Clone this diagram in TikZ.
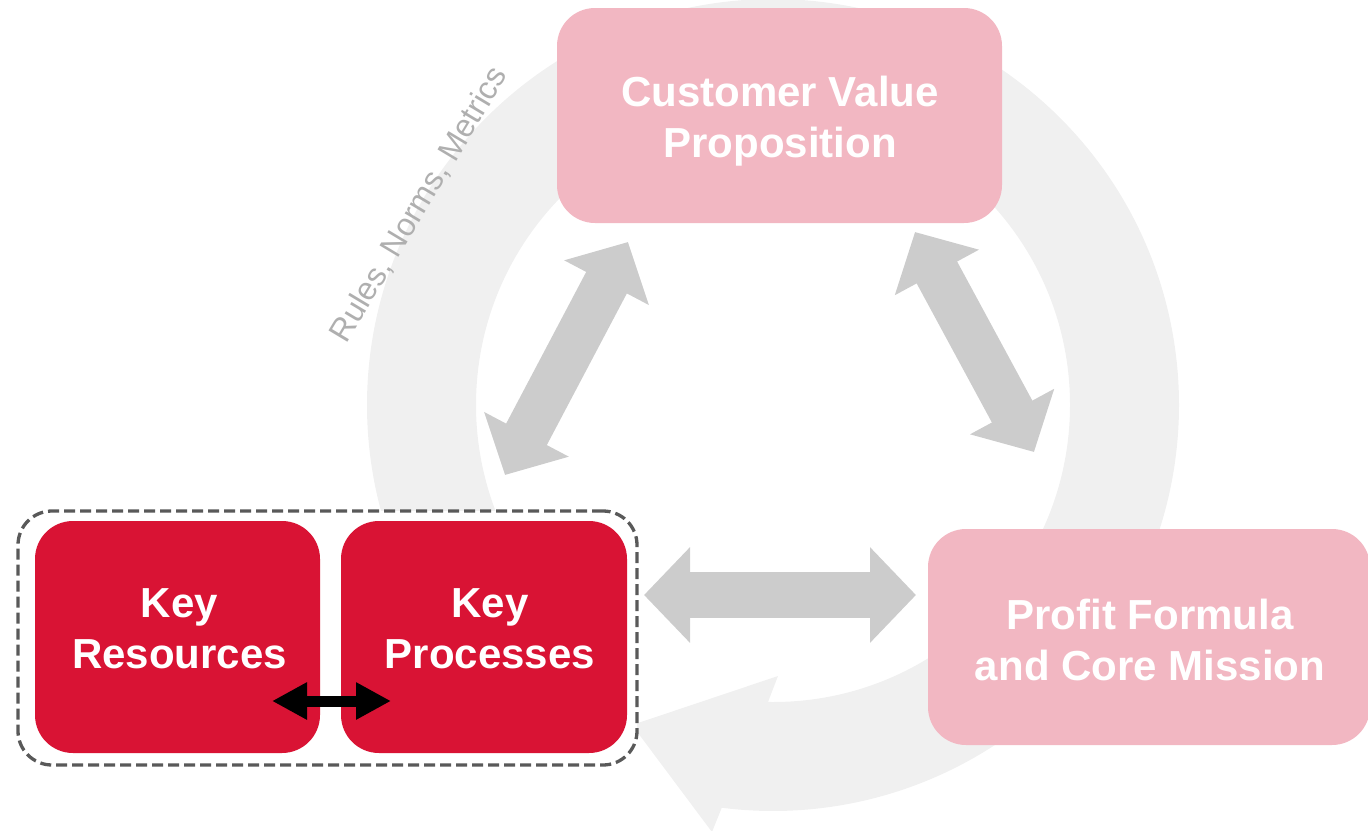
\documentclass[tikz,border=0pt]{standalone}
\usepackage{fontspec}
\setmainfont{Liberation Sans}
\usetikzlibrary{arrows.meta,calc}

\definecolor{ringgray}{HTML}{F0F0F0}
\definecolor{linkgray}{HTML}{CCCCCC}
\definecolor{softpink}{HTML}{F2B7C2}
\definecolor{keyred}{HTML}{D91334}
\definecolor{dashgray}{HTML}{595959}
\definecolor{notegray}{HTML}{AFAFAF}

\begin{document}
\begin{tikzpicture}[x=1pt,y=-1pt,
  box/.style={rectangle,rounded corners=38pt,inner sep=0pt,outer sep=0pt},
  pinkbox/.style={box,fill=softpink},
  redbox/.style={box,fill=keyred,minimum width=285pt,minimum height=232pt},
  boxtext/.style={text=white,align=center,inner sep=0pt,
    font=\bfseries\fontsize{42}{51}\selectfont},
  grayarrow/.style={draw=linkgray,line width=46pt,
    {Triangle[length=46pt,width=93pt]}-{Triangle[length=46pt,width=93pt]}},
  blackarrow/.style={draw=black,line width=11pt,
    {Triangle[length=35pt,width=35pt]}-{Triangle[length=35pt,width=35pt]}}
]
\useasboundingbox (0,0) rectangle (1368,830);
\clip (0,0) rectangle (1368,830);

% large circular arrow running clockwise behind the boxes
\begin{scope}[shift={(773,405)}]
  \fill[ringgray] (135:406) arc[start angle=135,end angle=457.25,radius=406]
    -- (-61,427) -- (-141,320) -- (5,271)
    -- (450.96:297) arc[start angle=450.96,end angle=135,radius=297] -- cycle;
\end{scope}

% rotated annotation along the ring
\node[text=notegray,rotate=59,anchor=center,inner sep=0pt,
  font=\fontsize{32}{36}\selectfont] (rules) at (419,205) {Rules, Norms, Metrics};

% dashed group around the two key boxes
\node[box,rounded corners=34pt,fill=white,draw=dashgray,line width=3.3pt,
  dash pattern=on 11pt off 5pt,minimum width=619pt,minimum height=254pt]
  (group) at (327.5,638) {};

\node[redbox] (res) at (177.5,637) {};
\node[redbox,minimum width=286pt] (proc) at (484,637) {};

\node[pinkbox,minimum width=445pt,minimum height=215pt] (cvp) at (779.5,115.5) {};
\node[pinkbox,minimum width=442pt,minimum height=216pt] (profit) at (1149,637) {};

% labels
\node[boxtext] (cvptext) at (780,121.5) {Customer Value\\Proposition};
\node[boxtext] (profittext) at (1150,640) {Profit Formula\\and Core Mission};
\node[boxtext] (restext) at (179.5,629) {Key\\Resources};
\node[boxtext] (proctext) at (490,629) {Key\\Processes};

% links between the building blocks
\coordinate (cvpL) at (628,242);
\coordinate (keyT) at (505,475);
\coordinate (cvpR) at (915,232);
\coordinate (profT) at (1034,452);
\coordinate (groupR) at (644,595);
\coordinate (profL) at (916,595);
\draw[grayarrow] (keyT) -- (cvpL);
\draw[grayarrow] (cvpR) -- (profT);
\draw[grayarrow] (groupR) -- (profL);

\coordinate (resB) at (272,701);
\coordinate (procB) at (391,701);
\draw[blackarrow] (resB) -- (procB);
\end{tikzpicture}
\end{document}
